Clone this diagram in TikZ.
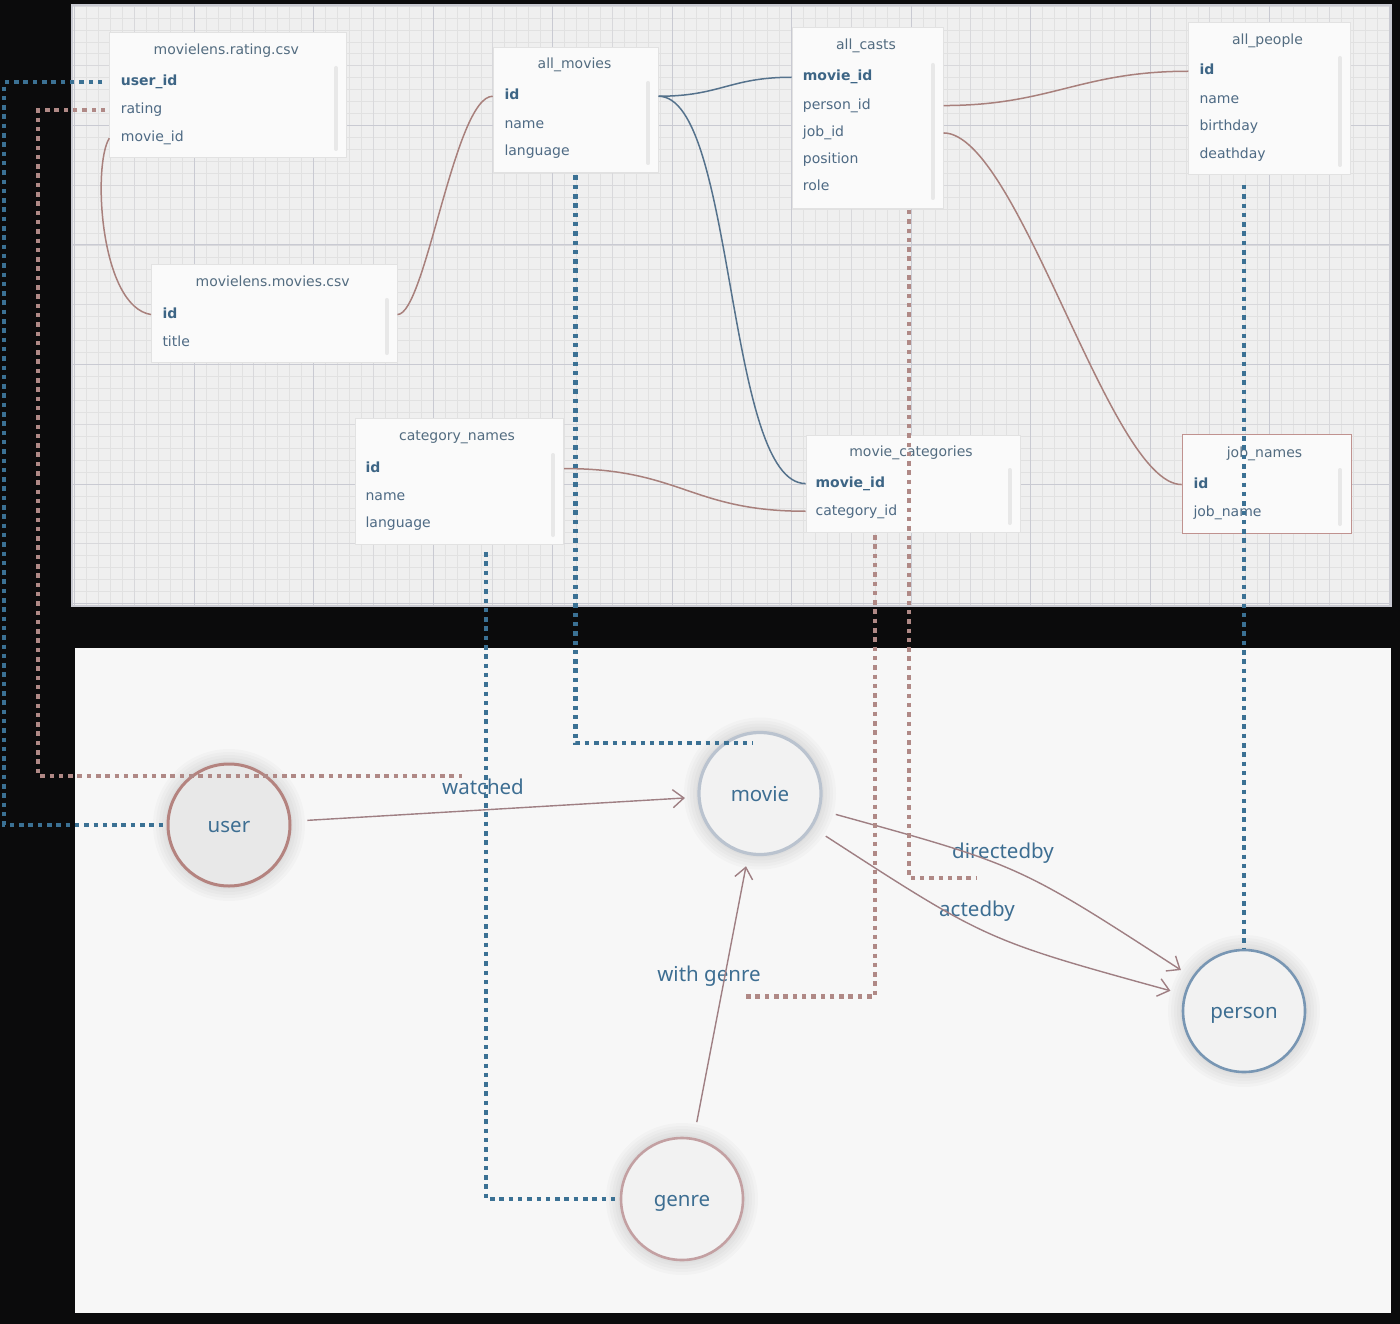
\documentclass[tikz,border=0pt]{standalone}
\usepackage{fontspec}
\newfontfamily\tabfont{DejaVu Sans}
\newfontfamily\grfont{Noto Sans}
\usetikzlibrary{arrows.meta}
\definecolor{bgblack}{HTML}{0B0B0C}
\definecolor{gridbg}{HTML}{EFEFEF}
\definecolor{gridminor}{HTML}{E1E1E1}
\definecolor{gridmid}{HTML}{D8D8DB}
\definecolor{gridmajor}{HTML}{C9CAD2}
\definecolor{panelbg}{HTML}{F7F7F7}
\definecolor{boxfill}{HTML}{FAFAFA}
\definecolor{boxline}{HTML}{E2E2E2}
\definecolor{jobline}{HTML}{C0928F}
\definecolor{titlecol}{HTML}{536C80}
\definecolor{fieldcol}{HTML}{4E6A84}
\definecolor{keycol}{HTML}{3D6585}
\definecolor{sbarcol}{HTML}{E8E8E8}
\definecolor{rosecol}{HTML}{A8807C}
\definecolor{curveblue}{HTML}{55728C}
\definecolor{dotblue}{HTML}{3B7194}
\definecolor{dotrose}{HTML}{B08986}
\definecolor{labelblue}{HTML}{3D6E92}
\definecolor{edgecol}{HTML}{9F7F83}
\definecolor{userline}{HTML}{B4837F}
\definecolor{movieline}{HTML}{BAC3CF}
\definecolor{personline}{HTML}{7896B3}
\definecolor{genreline}{HTML}{C3A0A2}
\tikzset{
  gminor/.style={draw=gridminor, line width=0.6pt},
  gmid/.style={draw=gridmid, line width=0.8pt},
  gmajor/.style={draw=gridmajor, line width=1pt},
  panelframe/.style={draw=gridmajor, line width=1.2pt},
  tbox/.style={rectangle, draw=boxline, fill=boxfill, line width=0.8pt, inner sep=0pt, anchor=north west},
  ttitle/.style={font=\tabfont\fontsize{14}{16}\selectfont, text=titlecol, inner sep=0pt, anchor=base},
  tfield/.style={font=\tabfont\fontsize{14}{16}\selectfont, text=fieldcol, inner sep=0pt, anchor=base west, text height=10.5pt, text depth=3pt},
  tkey/.style={tfield, font=\tabfont\bfseries\fontsize{14}{16}\selectfont, text=keycol},
  sbar/.style={line width=4pt, draw=sbarcol, line cap=round},
  fk/.style={line width=1.5pt, draw=rosecol},
  fkblue/.style={line width=1.5pt, draw=curveblue},
  bdot/.style={draw=dotblue, line width=4.3pt, dash pattern=on 4.5pt off 4.8pt},
  rdot/.style={draw=dotrose, line width=4.3pt, dash pattern=on 4.5pt off 4.8pt},
  gnode/.style={circle, minimum size=122pt, inner sep=0pt, line width=2.6pt, font=\grfont\fontsize{20.5}{24}\selectfont, text=labelblue, text height=18pt, text depth=2.4pt},
  glowc/.style={fill=black, opacity=0.018},
  edge/.style={draw=edgecol, line width=1.4pt, -{Straight Barb[length=11pt, width=18pt, line width=1.4pt]}},
  elabel/.style={font=\grfont\fontsize{20.5}{24}\selectfont, text=labelblue, inner sep=0pt, anchor=base}
}
\begin{document}
\begin{tikzpicture}[x=1pt,y=-1pt]
\useasboundingbox (0,0) rectangle (1400,1324);
\fill[bgblack] (0,0) rectangle (1400,1324);
% ---------- top panel with grid
\fill[gridbg] (72,5) rectangle (1391,606);
\begin{scope}
  \clip (72,5) rectangle (1391,606);
  \foreach \i in {0,...,110} \draw[gminor] ({74.5+11.95*\i},5) -- ({74.5+11.95*\i},606);
  \foreach \i in {0,...,50} \draw[gminor] (72,{6+11.95*\i}) -- (1391,{6+11.95*\i});
  \foreach \i in {0,...,22} \draw[gmid] ({74.5+59.75*\i},5) -- ({74.5+59.75*\i},606);
  \foreach \i in {0,...,10} \draw[gmid] (72,{6+59.75*\i}) -- (1391,{6+59.75*\i});
  \foreach \i in {0,...,11} \draw[gmajor] ({74.5+119.5*\i},5) -- ({74.5+119.5*\i},606);
  \foreach \i in {0,...,5} \draw[gmajor] (72,{6+119.5*\i}) -- (1391,{6+119.5*\i});
\end{scope}
\draw[panelframe] (72,5) rectangle (1391,606);
% ---------- bottom panel
\fill[panelbg] (75,648) rectangle (1391,1313);

% ---------- tables
% movielens.rating.csv
\node[tbox, minimum width=236.7pt, minimum height=124.4pt] (trat) at (109.3,32.3) {};
\draw[sbar] (336,68) -- (336,149);
\node[ttitle] (trat-t) at (226.3,55) {movielens.rating.csv};
\node[tkey] (trat-uid) at (120.7,86) {user\_id};
\node[tfield] (trat-rat) at (120.7,114) {rating};
\node[tfield] (trat-mid) at (120.7,142) {movie\_id};
% movielens.movies.csv
\node[tbox, minimum width=245.7pt, minimum height=97.4pt] (tmov) at (151,264.3) {};
\draw[sbar] (386.7,300) -- (386.7,353);
\node[ttitle] (tmov-t) at (272.7,286.7) {movielens.movies.csv};
\node[tkey] (tmov-id) at (162.3,318.3) {id};
\node[tfield] (tmov-tit) at (162.3,346) {title};
% all_movies
\node[tbox, minimum width=165pt, minimum height=125pt] (tam) at (492.7,46.7) {};
\draw[sbar] (648.3,83) -- (648.3,163);
\node[ttitle] (tam-t) at (574.5,69) {all\_movies};
\node[tkey] (tam-id) at (504.3,100) {id};
\node[tfield] (tam-name) at (504.3,128.3) {name};
\node[tfield] (tam-lang) at (504.3,155.5) {language};
% all_casts
\node[tbox, minimum width=151pt, minimum height=181pt] (tac) at (791.7,27.3) {};
\draw[sbar] (932.7,65) -- (932.7,198);
\node[ttitle] (tac-t) at (866,50) {all\_casts};
\node[tkey] (tac-mid) at (802.7,81) {movie\_id};
\node[tfield] (tac-pid) at (802.7,109.3) {person\_id};
\node[tfield] (tac-jid) at (802.7,136.7) {job\_id};
\node[tfield] (tac-pos) at (802.7,164) {position};
\node[tfield] (tac-role) at (802.7,191) {role};
% all_people
\node[tbox, minimum width=161.7pt, minimum height=152.3pt] (tap) at (1188.3,21.7) {};
\draw[sbar] (1340,58) -- (1340,165);
\node[ttitle] (tap-t) at (1267.5,44.3) {all\_people};
\node[tkey] (tap-id) at (1199.3,75) {id};
\node[tfield] (tap-name) at (1199.3,103.3) {name};
\node[tfield] (tap-bd) at (1199.3,130.7) {birthday};
\node[tfield] (tap-dd) at (1199.3,158.3) {deathday};
% category_names
\node[tbox, minimum width=208.5pt, minimum height=126pt] (tcn) at (354.7,418.3) {};
\draw[sbar] (553,455) -- (553,535);
\node[ttitle] (tcn-t) at (457,440.7) {category\_names};
\node[tkey] (tcn-id) at (365.4,472.3) {id};
\node[tfield] (tcn-name) at (365.4,500.7) {name};
\node[tfield] (tcn-lang) at (365.4,527.5) {language};
% movie_categories
\node[tbox, minimum width=214pt, minimum height=96.7pt] (tmc) at (805.6,435) {};
\draw[sbar] (1009.6,470) -- (1009.6,523);
\node[ttitle] (tmc-t) at (911,456.7) {movie\_categories};
\node[tkey] (tmc-mid) at (815.4,487.3) {movie\_id};
\node[tfield] (tmc-cat) at (815.4,515) {category\_id};
% job_names
\node[tbox, draw=jobline, minimum width=169pt, minimum height=99pt] (tjn) at (1181.7,434.3) {};
\draw[sbar] (1340,470) -- (1340,524);
\node[ttitle] (tjn-t) at (1264.5,457.7) {job\_names};
\node[tkey] (tjn-id) at (1193.3,488.3) {id};
\node[tfield] (tjn-name) at (1193.3,516.7) {job\_name};

% ---------- foreign key curves
\draw[fk] (trat.west |- trat-mid.west) .. controls +(-17,27) and +(-51,-8) .. (tmov.west |- tmov-id.west);
\draw[fk] (tmov.east |- tmov-id.west) .. controls +(28,0) and +(-38,0) .. (tam.west |- tam-id.west);
\draw[fkblue] (tam.east |- tam-id.west) .. controls +(62,0) and +(-62,0) .. (tac.west |- tac-mid.west);
\draw[fkblue] (tam.east |- tam-id.west) .. controls +(77,0) and +(-80,0) .. (tmc.west |- tmc-mid.west);
\draw[fk] (tcn.east |- tcn-id.west) .. controls +(117,0) and +(-115,0) .. (tmc.west |- tmc-cat.west);
\draw[fk] (tac.east |- tac-pid.west) .. controls +(107,0) and +(-108,0) .. (tap.west |- tap-id.west);
\draw[fk] (tac.east |- tac-jid.west) .. controls +(75,0) and +(-72,0) .. (tjn.west |- tjn-id.west);

% ---------- graph nodes
\foreach \cx/\cy in {229/825, 760/793.5, 1244/1011, 682/1199} {
  \foreach \r in {76,73,70,67,64} {
    \fill[glowc] (\cx,\cy) circle[radius=\r];
  }
}
\node[gnode, draw=userline, fill=black!9, line width=3pt] (user) at (229,825) {user};
\node[gnode, draw=movieline, fill=black!5, line width=3.2pt] (movie) at (760,793.5) {movie};
\node[gnode, draw=personline, fill=black!5] (person) at (1244,1011) {person};
\node[gnode, draw=genreline, fill=black!5] (genre) at (682,1199) {genre};

% ---------- edge labels
\node[elabel] (lwatched) at (483,794) {watched};
\node[elabel] (ldirected) at (1003,858) {directedby};
\node[elabel] (lacted) at (977,916) {actedby};
\node[elabel] (lgenre) at (709,981.7) {with genre};

% ---------- edges
\draw[edge, shorten <=16pt, shorten >=12.6pt] (user) -- (movie);
\draw[edge, shorten <=16pt, shorten >=11.5pt] (genre) -- (movie);
\draw[edge, shorten <=16pt, shorten >=13pt] (movie) .. controls (1019,865) .. (person);
\draw[edge, shorten <=15.8pt, shorten >=14pt] (movie) .. controls (986,940) .. (person);

% ---------- mapping dotted lines
\coordinate (dw-end) at (462,776);
\coordinate (dm-end) at (753,743);
\coordinate (dc-top) at (909,210);
\coordinate (dc-end) at (977,878);
\coordinate (dg-top) at (875,535);
\coordinate (dg-end) at (741.7,996.5);
\coordinate (dn-top) at (486,552);
\coordinate (dp-top) at (1244,185);
\draw[bdot] ([xshift=-7pt]trat.west |- trat-uid.west) -- ++(-98,0) |- (user.west);
\draw[rdot] ([xshift=-4pt]trat.west |- trat-rat.west) -- ++(-67,0) |- (dw-end);
\draw[bdot] ([yshift=-3pt]tam.south) |- (dm-end);
\draw[rdot] (dc-top) |- (dc-end);
\draw[rdot] (dg-top) |- (dg-end);
\draw[bdot] (dn-top) |- (genre.west);
\draw[bdot] (dp-top) -- (person.north);
\end{tikzpicture}
\end{document}
